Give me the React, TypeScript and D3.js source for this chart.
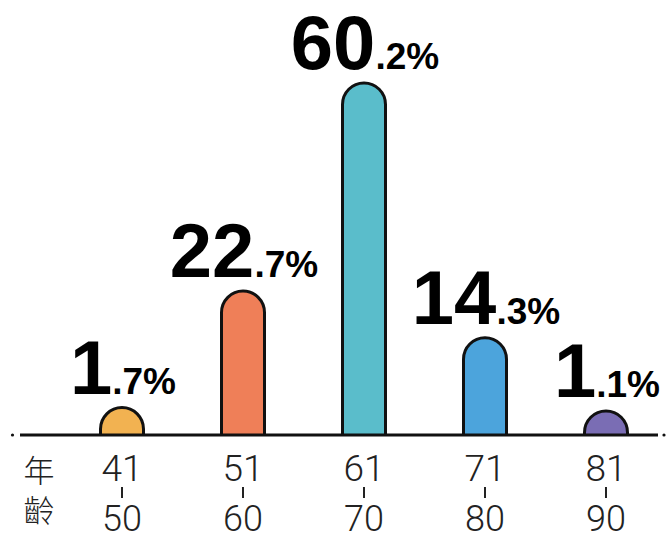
import React, { useRef, useEffect } from 'react';
import * as d3 from 'd3';

// 年齢層ごとの割合
const ageFrom = ['41', '51', '61', '71', '81'];
const ageTo = ['50', '60', '70', '80', '90'];
const shares = [1.7, 22.7, 60.2, 14.3, 1.1];
const colors = ['#F2B251', '#EF7F58', '#5ABDCB', '#4CA4DC', '#7A6DB4'];
const axisTitle = ['年', '齡'];

export default function App() {
  const svgRef = useRef<SVGSVGElement>(null);

  useEffect(() => {
    const svg = d3.select(svgRef.current);
    const width = 666;
    const height = 535;
    const baseY = 435;
    const barW = 43;
    const r = barW / 2;

    svg.attr('width', width).attr('height', height);
    svg.selectAll('*').remove();

    const x = d3.scalePoint<string>()
      .domain(ageFrom)
      .range([122, 606]);

    // 棒の高さ (小さい値は半円で止める)
    const h = d3.scaleLinear()
      .domain([0, 60.2])
      .range([18, 352]);

    const barH = (v: number) => Math.max(r, h(v));

    const pill = (cx: number, bh: number) => {
      const p = d3.path();
      const left = cx - r;
      const right = cx + r;
      const top = baseY - bh;
      p.moveTo(left, baseY);
      p.lineTo(left, top + r);
      p.arc(cx, top + r, r, Math.PI, 0);
      p.lineTo(right, baseY);
      return p.toString();
    };

    const data = shares.map((v, i) => ({ v, key: ageFrom[i], color: colors[i] }));

    svg.selectAll('.bar')
      .data(data)
      .join('path')
      .attr('class', 'bar')
      .attr('d', d => pill(x(d.key)!, barH(d.v)))
      .attr('fill', d => d.color)
      .attr('stroke', '#111')
      .attr('stroke-width', 3);

    // 値ラベル
    const labels = svg.selectAll('.val')
      .data(data)
      .join('text')
      .attr('class', 'val')
      .attr('x', d => x(d.key)! + 1)
      .attr('y', d => baseY - barH(d.v) - 14)
      .attr('text-anchor', 'middle')
      .attr('font-family', '"Liberation Sans", Arial, sans-serif')
      .attr('font-weight', 'bold')
      .attr('fill', '#000');

    labels.append('tspan')
      .attr('font-size', 76)
      .text(d => String(Math.floor(d.v)));
    labels.append('tspan')
      .attr('font-size', 37)
      .text(d => '.' + d.v.toFixed(1).split('.')[1] + '%');

    // 軸
    svg.append('line')
      .attr('x1', 20).attr('x2', 658)
      .attr('y1', baseY).attr('y2', baseY)
      .attr('stroke', '#111')
      .attr('stroke-width', 3);
    svg.selectAll('.dot')
      .data([12.5, 664])
      .join('circle')
      .attr('class', 'dot')
      .attr('cx', d => d)
      .attr('cy', baseY)
      .attr('r', 1.6)
      .attr('fill', '#111');

    const tickFont = 'Roboto, "Liberation Sans", sans-serif';
    svg.selectAll('.from')
      .data(ageFrom)
      .join('text')
      .attr('class', 'from')
      .attr('x', d => x(d)!)
      .attr('y', 481)
      .attr('text-anchor', 'middle')
      .attr('font-family', tickFont)
      .attr('font-weight', 300)
      .attr('font-size', 37)
      .attr('fill', '#222')
      .text(d => d);

    svg.selectAll('.to')
      .data(ageTo)
      .join('text')
      .attr('class', 'to')
      .attr('x', (_, i) => x(ageFrom[i])!)
      .attr('y', 531)
      .attr('text-anchor', 'middle')
      .attr('font-family', tickFont)
      .attr('font-weight', 300)
      .attr('font-size', 36)
      .attr('fill', '#222')
      .text(d => d);

    svg.selectAll('.sep')
      .data(ageFrom)
      .join('line')
      .attr('class', 'sep')
      .attr('x1', d => x(d)!).attr('x2', d => x(d)!)
      .attr('y1', 487).attr('y2', 498)
      .attr('stroke', '#222')
      .attr('stroke-width', 2);

    svg.selectAll('.title')
      .data(axisTitle)
      .join('text')
      .attr('class', 'title')
      .attr('x', 39)
      .attr('y', (_, i) => 482 + i * 40)
      .attr('text-anchor', 'middle')
      .attr('font-family', '"Noto Sans CJK TC", "Noto Sans CJK JP", sans-serif')
      .attr('font-weight', 300)
      .attr('font-size', 31)
      .attr('fill', '#222')
      .text(d => d);
  }, []);

  return (
    <svg ref={svgRef} style={{ position: 'absolute', left: 0, top: 0, background: '#fff' }}></svg>
  );
}
